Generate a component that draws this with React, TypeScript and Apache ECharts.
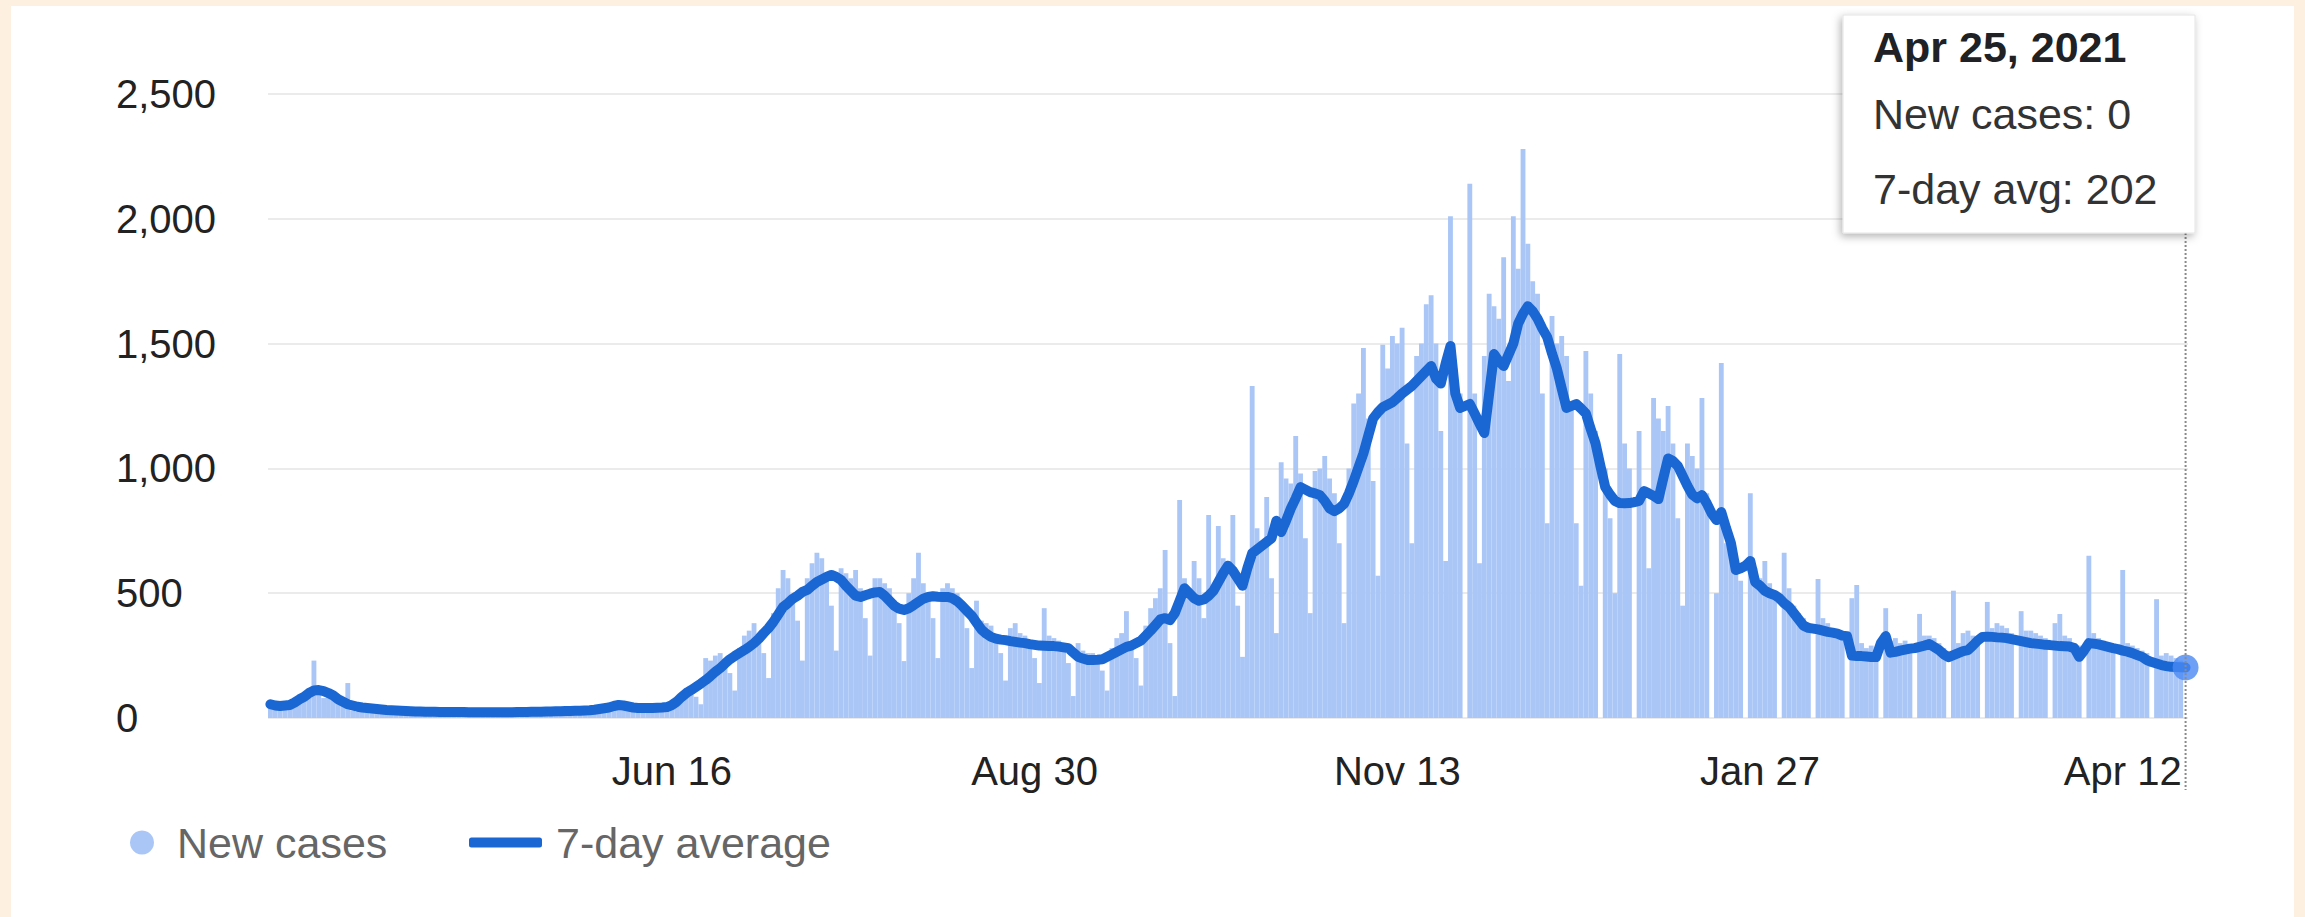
import React, { useEffect, useRef } from 'react';
import * as echarts from 'echarts';

// First day of the series (Wednesday) and the x-axis tick dates
const START_DATE = '2020-03-25';
const TICK_DATES = ['2020-06-16', '2020-08-30', '2020-11-13', '2021-01-27', '2021-04-12'];
const MONTHS = ['Jan', 'Feb', 'Mar', 'Apr', 'May', 'Jun', 'Jul', 'Aug', 'Sep', 'Oct', 'Nov', 'Dec'];

// Y-axis ticks
const Y_MIN = 0;
const Y_MAX = 2500;
const Y_STEP = 500;

// Daily new cases (one row per week, Wed..Tue)
const NEW_CASES = [
  55, 45, 50, 42, 38, 70, 85,
  95, 120, 230, 110, 80, 95, 100,
  70, 60, 140, 30, 25, 40, 35,
  40, 35, 30, 28, 22, 32, 36,
  30, 28, 25, 20, 18, 30, 28,
  26, 25, 24, 20, 18, 27, 26,
  25, 24, 23, 20, 18, 25, 24,
  25, 24, 24, 20, 19, 26, 26,
  27, 28, 27, 22, 20, 29, 30,
  31, 30, 32, 26, 24, 36, 40,
  50, 52, 60, 44, 36, 48, 42,
  40, 38, 42, 36, 30, 46, 60,
  60, 85, 120, 100, 85, 55, 240,
  230, 250, 260, 220, 180, 110, 280,
  330, 350, 380, 320, 260, 160, 420,
  520, 593, 560, 470, 390, 230, 560,
  620, 662, 640, 560, 450, 270, 600,
  580, 560, 593, 520, 400, 250, 560,
  560, 540, 520, 470, 380, 228, 500,
  560, 662, 540, 480, 400, 240, 520,
  540, 520, 500, 460, 360, 200, 470,
  390, 380, 370, 330, 260, 150, 360,
  380, 340, 330, 300, 240, 140, 440,
  330, 320, 310, 290, 220, 88, 300,
  270, 260, 260, 240, 190, 110, 280,
  320, 340, 428, 300, 240, 130, 370,
  440, 480, 520, 673, 300, 88, 873,
  560, 520, 629, 560, 400, 813, 520,
  769, 640, 600, 813, 450, 245, 620,
  1330, 760, 700, 885, 560, 340, 1025,
  960, 940, 1130, 980, 720, 420, 990,
  1000, 1050, 960, 900, 700, 380, 1000,
  1260, 1300, 1482, 1200, 950, 570, 1495,
  1400, 1530, 1500, 1564, 1100, 700, 1450,
  1500, 1658, 1694, 1500, 1150, 629, 2010,
  1400, 1300, 0, 2140, 1300, 620, 1450,
  1700, 1650, 1600, 1846, 1350, 2010, 1800,
  2280, 1900, 1750, 1700, 1300, 780, 1611,
  1500, 1530, 1450, 1250, 780, 530, 1470,
  1300, 1150, 0, 1000, 800, 500, 1458,
  1100, 1000, 0, 1150, 900, 600, 1282,
  1200, 1150, 1250, 1100, 800, 450, 1100,
  1050, 1000, 1282, 900, 0, 500, 1422,
  700, 650, 620, 550, 0, 900, 600,
  560, 629, 540, 500, 0, 662, 520,
  450, 420, 400, 380, 0, 557, 400,
  380, 360, 350, 330, 0, 480, 533,
  300, 280, 290, 260, 0, 440, 310,
  320, 300, 310, 290, 0, 417, 330,
  330, 320, 300, 280, 0, 510, 300,
  340, 350, 330, 320, 0, 465, 360,
  380, 370, 360, 340, 0, 428, 350,
  350, 340, 330, 320, 0, 380, 417,
  330, 320, 300, 290, 0, 650, 340,
  320, 310, 300, 290, 0, 593, 300,
  290, 280, 270, 260, 0, 476, 250,
  260, 250, 240, 230, 0,
];

// 7-day average (one row per week, Wed..Tue)
const AVG_7DAY = [
  55, 50, 48, 50, 52, 62, 75,
  85, 100, 110, 112, 108, 100, 90,
  75, 65, 55, 50, 45, 42, 40,
  38, 36, 34, 32, 31, 30, 29,
  28, 27, 26, 26, 25, 25, 25,
  24, 24, 24, 24, 24, 24, 23,
  23, 23, 23, 23, 23, 23, 23,
  23, 23, 24, 24, 24, 25, 25,
  25, 26, 26, 27, 27, 28, 28,
  29, 29, 30, 31, 33, 36, 39,
  42, 48, 52, 50, 46, 42, 40,
  40, 40, 40, 41, 42, 44, 52,
  65, 84, 100, 112, 125, 138, 152,
  168, 185, 200, 218, 235, 248, 260,
  272, 285, 300, 318, 340, 360, 385,
  415, 445, 460, 478, 490, 505, 513,
  530, 545, 555, 565, 573, 565, 553,
  530, 510, 490, 485, 492, 498, 503,
  505, 490, 470, 450, 438, 433, 440,
  452, 465, 478, 485, 488, 486, 485,
  485, 480, 468, 450, 430, 410, 382,
  355, 338, 325, 318, 314, 312, 308,
  305, 302, 300, 296, 293, 290, 289,
  288, 288, 286, 283, 280, 262, 245,
  238, 232, 232, 233, 235, 245, 255,
  265, 275, 285, 290, 300, 310, 330,
  350, 372, 395, 400, 392, 420, 470,
  520, 500, 480, 470, 475, 490, 510,
  545, 580, 610, 590, 560, 530, 600,
  660, 675, 690, 705, 720, 790, 745,
  790, 840, 880, 925, 915, 905, 900,
  893, 870, 840, 829, 840, 858, 900,
  950, 1005, 1060, 1130, 1200, 1225, 1245,
  1255, 1265, 1282, 1300, 1315, 1330, 1350,
  1370, 1390, 1410, 1360, 1340, 1420, 1490,
  1300, 1242, 1250, 1258, 1220, 1180, 1142,
  1300, 1458, 1430, 1410, 1455, 1500, 1580,
  1620, 1650, 1630, 1600, 1560, 1526, 1460,
  1400, 1320, 1242, 1250, 1258, 1240, 1220,
  1158, 1100, 1010, 925, 895, 870, 861,
  860, 861, 865, 870, 909, 900, 890,
  877, 960, 1040, 1030, 1010, 970, 930,
  895, 880, 893, 860, 820, 793, 825,
  760, 700, 593, 600, 610, 629, 545,
  530, 510, 500, 493, 480, 460, 445,
  420, 395, 370, 361, 358, 355, 350,
  345, 342, 338, 330, 328, 250, 248,
  248, 246, 244, 244, 300, 328, 262,
  265, 270, 274, 278, 280, 285, 290,
  296, 284, 272, 255, 244, 252, 260,
  268, 272, 290, 310, 325, 326, 325,
  323, 322, 320, 316, 312, 308, 304,
  300, 298, 296, 293, 292, 290, 288,
  287, 286, 280, 245, 270, 300, 298,
  295, 290, 285, 280, 276, 270, 266,
  260, 252, 245, 232, 224, 218, 212,
  208, 205, 204, 203, 202,
];

// Hover box texts
const TOOLTIP_TITLE = 'Apr 25, 2021';
const TOOLTIP_LINES = ['New cases: 0', '7-day avg: 202'];

const FONT = "Arial, 'Liberation Sans', Helvetica, sans-serif";

function buildDates(start: string, n: number): string[] {
  const out: string[] = [];
  const base = new Date(start + 'T00:00:00Z').getTime();
  for (let i = 0; i < n; i++) {
    const d = new Date(base + i * 86400000);
    const y = d.getUTCFullYear();
    const m = String(d.getUTCMonth() + 1).padStart(2, '0');
    const dd = String(d.getUTCDate()).padStart(2, '0');
    out.push(`${y}-${m}-${dd}`);
  }
  return out;
}

function fmtDate(iso: string): string {
  const [, m, d] = iso.split('-');
  return `${MONTHS[parseInt(m, 10) - 1]} ${parseInt(d, 10)}`;
}

export default function App() {
  const ref = useRef<HTMLDivElement>(null);

  useEffect(() => {
    if (!ref.current) return;
    const chart = echarts.init(ref.current, undefined, { renderer: 'svg' });
    const dates = buildDates(START_DATE, NEW_CASES.length);
    const last = dates.length - 1;

    chart.setOption({
      animation: false,
      backgroundColor: '#ffffff',
      textStyle: { fontFamily: FONT },
      grid: { left: 257, top: 88, width: 1920, height: 624, containLabel: false },
      legend: [
        {
          data: [{ name: 'New cases', icon: 'circle' }],
          left: 114,
          top: 810,
          itemWidth: 24,
          itemHeight: 24,
          selectedMode: false,
          textStyle: { fontSize: 43, color: '#666666', fontFamily: FONT, padding: [0, 0, 0, 18] },
        },
        {
          data: [{ name: '7-day average', icon: 'roundRect' }],
          left: 453,
          top: 810,
          itemWidth: 73,
          itemHeight: 10,
          selectedMode: false,
          textStyle: { fontSize: 43, color: '#666666', fontFamily: FONT, padding: [0, 0, 0, 9] },
        },
      ],
      xAxis: {
        type: 'category',
        data: dates,
        boundaryGap: true,
        axisLine: { show: false },
        axisTick: { show: false },
        splitLine: { show: false },
        axisLabel: {
          interval: (_i: number, v: string) => TICK_DATES.includes(v),
          formatter: (v: string) => fmtDate(v),
          fontSize: 40,
          color: '#222222',
          fontFamily: FONT,
          margin: 33,
        },
      },
      yAxis: {
        type: 'value',
        min: Y_MIN,
        max: Y_MAX,
        interval: Y_STEP,
        axisLine: { show: false },
        axisTick: { show: false },
        splitLine: { lineStyle: { color: '#ebebeb', width: 2 } },
        axisLabel: {
          align: 'left',
          margin: 152,
          fontSize: 40,
          color: '#222222',
          fontFamily: FONT,
          formatter: (v: number) => v.toLocaleString('en-US'),
        },
      },
      series: [
        {
          name: 'New cases',
          type: 'bar',
          data: NEW_CASES,
          barCategoryGap: '0%',
          itemStyle: { color: '#a9c6f7' },
          z: 1,
        },
        {
          name: '7-day average',
          type: 'line',
          data: AVG_7DAY,
          showSymbol: false,
          symbol: 'none',
          lineStyle: { color: '#1a66d2', width: 10, cap: 'round', join: 'round' },
          itemStyle: { color: '#1a66d2' },
          z: 3,
        },
        {
          name: 'highlight',
          type: 'scatter',
          data: [[last, AVG_7DAY[last]]],
          symbolSize: 26,
          itemStyle: { color: '#4a8af4' },
          z: 5,
        },
      ],
    });

    const px = chart.convertToPixel({ xAxisIndex: 0 }, dates[last]) as number;

    chart.setOption({
      graphic: [
        {
          type: 'line',
          silent: true,
          z: 10,
          shape: { x1: px, y1: 227, x2: px, y2: 784 },
          style: { stroke: '#8a8a8a', lineWidth: 2, lineDash: [2, 2] },
        },
        {
          type: 'rect',
          silent: true,
          z: 20,
          shape: { x: 1832, y: 9, width: 352, height: 218 },
          style: {
            fill: '#ffffff',
            stroke: '#e4e4e4',
            lineWidth: 1,
            shadowBlur: 8,
            shadowOffsetX: -2,
            shadowOffsetY: 3,
            shadowColor: 'rgba(0,0,0,0.3)',
          },
        },
        {
          type: 'text',
          silent: true,
          z: 21,
          x: 1862,
          y: 41,
          style: {
            text: TOOLTIP_TITLE,
            fontSize: 43,
            fontWeight: 'bold',
            fontFamily: FONT,
            fill: '#202124',
            verticalAlign: 'middle',
          },
        },
        {
          type: 'text',
          silent: true,
          z: 21,
          x: 1862,
          y: 108,
          style: {
            text: TOOLTIP_LINES[0],
            fontSize: 43,
            fontFamily: FONT,
            fill: '#333333',
            verticalAlign: 'middle',
          },
        },
        {
          type: 'text',
          silent: true,
          z: 21,
          x: 1862,
          y: 183,
          style: {
            text: TOOLTIP_LINES[1],
            fontSize: 43,
            fontFamily: FONT,
            fill: '#333333',
            verticalAlign: 'middle',
          },
        },
      ],
    });

    return () => chart.dispose();
  }, []);

  return (
    <div style={{ position: 'fixed', left: 0, top: 0, width: 2305, height: 917, background: '#fdf0e1' }}>
      <div ref={ref} style={{ position: 'absolute', left: 11, top: 6, width: 2283, height: 911, background: '#ffffff' }} />
    </div>
  );
}
